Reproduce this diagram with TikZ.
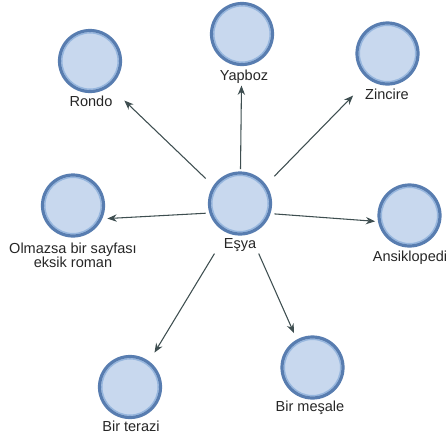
\documentclass[tikz,border=0pt]{standalone}
\usepackage{fontspec}
\setmainfont{Liberation Sans}
\usetikzlibrary{fit,arrows.meta}
\definecolor{conceptfill}{RGB}{200,216,238}
\definecolor{conceptedge}{RGB}{88,125,176}
\definecolor{conceptring}{RGB}{150,182,222}
\definecolor{linkcol}{RGB}{62,78,80}
\begin{document}
\begin{tikzpicture}[x=0.75pt,y=-0.75pt,
  concept/.style={circle, minimum size=45.75pt, inner sep=0pt, fill=conceptfill,
    draw=conceptedge, line width=2.4pt,
    path picture={\draw[conceptring, line width=1pt]
      (path picture bounding box.center) circle (21.1pt);}},
  ctext/.style={anchor=base, font=\fontsize{10.9pt}{10.5pt}\selectfont,
    inner sep=0pt, align=center, text=black!85},
  cbox/.style={inner sep=1.5pt},
  link/.style={draw=linkcol, line width=0.8pt,
    -{Stealth[length=7pt,width=5.5pt]}}]
\useasboundingbox (0,0) rectangle (447,437);

% concept circles
\node[concept] (esya)   at (240,203.5) {};
\node[concept] (yapboz) at (242,34) {};
\node[concept] (zincire) at (387.5,53.5) {};
\node[concept] (rondo)  at (90,61) {};
\node[concept] (olmazsa) at (73,205.5) {};
\node[concept] (ansik)  at (409.5,215.5) {};
\node[concept] (terazi) at (130,387) {};
\node[concept] (mesale) at (312.5,367.5) {};

% concept labels (base anchor = baseline of the last line)
\node[ctext] (esya-t)    at (240,248) {Eşya};
\node[ctext] (yapboz-t)  at (244,80) {Yapboz};
\node[ctext] (zincire-t) at (387,99) {Zincire};
\node[ctext] (rondo-t)   at (91,106) {Rondo};
\node[ctext] (olmazsa-t) at (73,267) {Olmazsa bir sayfası\\eksik roman};
\node[ctext] (ansik-t)   at (410,261) {Ansiklopedi};
\node[ctext] (terazi-t)  at (131,431) {Bir terazi};
\node[ctext] (mesale-t)  at (310,411) {Bir meşale};

% boxes spanning circle and label, used to clip the links
\foreach \n in {esya,yapboz,zincire,rondo,olmazsa,ansik,terazi,mesale}
  \node[cbox, fit=(\n)(\n-t.south)] (\n-b) {};

% links
\draw[link] (esya-b) -- (yapboz-b);
\draw[link] (esya-b) -- (zincire-b);
\draw[link] (esya-b) -- (rondo-b);
\draw[link] (esya-b) -- (olmazsa-b);
\draw[link] (esya-b) -- (ansik-b);
\draw[link] (esya-b) -- (terazi-b);
\draw[link] (esya-b) -- (mesale-b);
\end{tikzpicture}
\end{document}
